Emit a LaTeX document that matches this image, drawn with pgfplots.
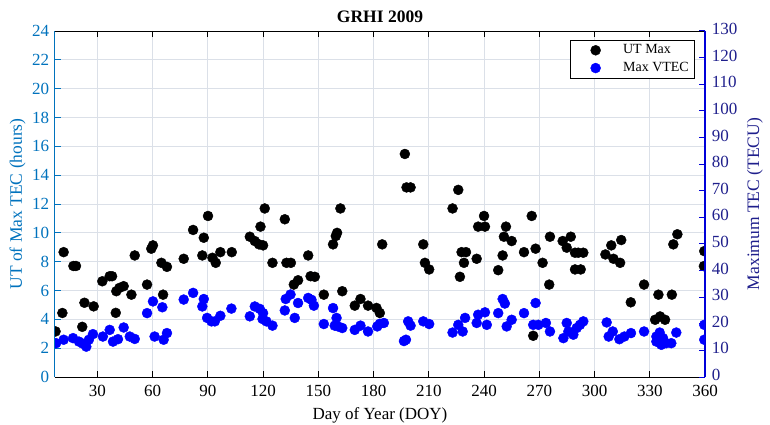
\documentclass[border=0pt]{standalone}
\usepackage{fontspec}
\setmainfont{Liberation Serif}
\usepackage{pgfplots}
\pgfplotsset{compat=1.18}
\definecolor{lcol}{rgb}{0.0,0.447,0.741}
\definecolor{rcol}{rgb}{0.12,0.12,0.55}
\definecolor{rline}{rgb}{0,0,0.85}
\definecolor{gridc}{rgb}{0.86,0.88,0.91}
\begin{document}
\fontsize{17}{20}\selectfont
\begin{tikzpicture}
\pgfplotsset{
  base/.style={
    at={(0,0)}, anchor=south west, scale only axis,
    width=650pt, height=346pt,
    xmin=7, xmax=360,
    tick align=inside,
    major tick length=6pt,
    clip marker paths=true,
    /pgf/number format/assume math mode=true,
    tick label style={font=\fontsize{17}{20}\selectfont},
    label style={font=\fontsize{17.5}{20}\selectfont},
  }
}
\begin{axis}[base,
  ymin=0, ymax=24,
  xtick={30,60,...,360}, ytick={0,2,...,24},
  axis y line*=left, axis x line=box,
  grid=major, major grid style={gridc, line width=0.7pt},
  xlabel={Day of Year (DOY)},
  ylabel={UT of Max TEC (hours)},
  ylabel style={yshift=-5pt},
  xticklabel style={yshift=-2pt},
  title={\textbf{GRHI 2009}},
  title style={font=\fontsize{17.5}{20}\selectfont, yshift=-4pt},
  y axis line style={lcol, line width=1pt},
  ytick style={lcol, line width=0.8pt},
  yticklabel style={lcol},
  ylabel style={lcol},
  x axis line style={black, line width=0.9pt},
  xtick style={black, line width=0.8pt},
]
\addplot[only marks, mark=*, mark size=5pt, black] coordinates {
(7.3,3.16) (11.7,8.66) (11,4.44) (17,7.7) (18.4,7.7) (21.8,3.48) (23,5.15) (28,4.9)
(32.7,6.64) (36.7,6.99) (38,6.99) (40,4.45) (40.3,5.95) (42,6.18) (44.3,6.3) (48.5,5.71)
(50.3,8.43) (57,6.41) (60.2,9.13) (59.3,8.9) (64.8,7.92) (67.8,7.64) (65.7,5.71) (76.9,8.2)
(82,10.2) (87.8,9.66) (90.1,11.17) (87,8.43) (92.5,8.27) (94.3,7.92) (96.8,8.66) (103,8.66)
(112.8,9.73) (115.5,9.43) (117.8,9.2) (120,9.13) (118.6,10.43) (120.9,11.69) (125.1,7.92)
(131.8,10.94) (132.7,7.92) (135.1,7.92) (136.7,6.41) (139,6.71) (144.5,8.43) (145.8,6.99)
(148.1,6.95) (153,5.71) (158,9.2) (159.5,9.78) (160.2,10.0) (162,11.69) (163,5.95)
(169.8,4.95) (172.9,5.41) (177,4.95) (181.6,4.79) (183.4,4.44) (184.7,9.2)
(197,15.47) (197.9,13.15) (200.1,13.15) (207,9.2) (207.9,7.92) (210.2,7.46)
(222.9,11.69) (226,12.98) (227.8,8.66) (230.2,8.66) (229.1,7.92) (226.9,6.95) (236,8.2)
(236.8,10.43) (240.5,10.43) (240,11.17) (247.7,7.41) (250.1,8.43) (250.8,9.73) (251.9,10.43)
(255,9.43) (261.7,8.66) (265.9,11.17) (268,8.9) (271.8,7.92) (275.4,6.41) (275.8,9.73)
(266.7,2.86) (282.7,9.43) (284.9,8.97) (287.1,9.73) (289.4,8.62) (291.2,8.62) (293.9,8.62)
(289.4,7.46) (292.5,7.46) (305.9,8.5) (309.1,9.13) (314.5,9.5) (310.3,8.2) (313.9,7.92)
(319.7,5.18) (326.9,6.41) (334.7,5.71) (342,5.71) (332.9,3.97) (335.6,4.2) (338.3,3.97)
(342.8,9.2) (345,9.9) (359.6,8.73) (359.4,7.69)
};
\end{axis}
\begin{axis}[base,
  ymin=0, ymax=130, ytick={0,10,...,130},
  axis y line*=right, axis x line=none,
  ylabel={Maximum TEC (TECU)},
  ylabel style={yshift=2pt},
  y axis line style={rline, line width=1.2pt},
  ytick style={rline, line width=1pt},
  yticklabel style={rcol, xshift=1pt, yshift=2pt},
  ylabel style={rcol},
  legend style={at={(axis description cs:0.985,0.974)}, anchor=north east,
    draw=black, line width=0.9pt, font=\fontsize{14}{16}\selectfont,
    inner xsep=4pt, inner ysep=2pt, row sep=2pt,
    cells={anchor=west}},
  legend image code/.code={%
    \path (0pt,0pt) (46pt,0pt);
    \draw[#1, line width=0.4pt] plot coordinates {(21pt,0pt)};},
]
\addlegendimage{only marks, mark=*, mark size=5pt, black}
\addlegendentry{UT Max}
\addplot[only marks, mark=*, mark size=5pt, blue] coordinates {
(6.8,12.1) (7.6,12.7) (11.7,14) (16.8,14.6) (20,13.3) (22.2,12.5) (24,11.4) (25.4,14)
(27.6,16.1) (33,15.2) (36.7,17.7) (38.5,13.3) (41.2,14.2) (44.3,18.6) (47.6,15.2) (50.3,14.3)
(57,24) (60.2,28.4) (65.3,26.2) (61.1,15.2) (66,14) (67.8,16.5) (76.9,29.1) (82,31.6)
(87.8,29.3) (87,26.5) (89.6,22.2) (92,20.9) (93.8,20.9) (96.8,23) (102.8,25.7)
(112.8,22.8) (115.5,26.5) (118.2,25.6) (120,24) (119.7,21.8) (121.8,20.9) (125.1,19.3)
(131.8,25) (132.3,29.3) (134.9,31) (139,27.8) (137.2,22.2) (144.5,29.7) (146.3,29)
(147.6,26.8) (153,19.9) (158,25.9) (159.9,22.2) (158.9,19.3) (160.7,19) (163,18.4)
(169.8,17.7) (172.9,19.3) (177,17.1) (182,19) (183.4,20) (185.6,20.3)
(197.6,14) (196.5,13.5) (198.8,20.9) (200.1,19.3) (207,20.9) (210.2,19.9)
(222.9,16.7) (226,19.6) (228.4,17.1) (229.7,22.2) (236,20.3) (236.8,23.4) (240.5,24.3)
(241.5,19.6) (247.7,24) (250.1,29.3) (251.3,27.6) (252.3,19) (255,21.5) (261.7,24)
(268,27.8) (266.7,19.6) (269.5,19.6) (273.6,20.3) (275.8,17.1) (283.1,14.6) (284.9,20.3)
(285.8,17.1) (288.5,15.9) (290.3,18.4) (292.1,19.6) (293.9,20.9) (306.6,20.5) (307.7,15.2)
(309.9,17.1) (313.5,14.2) (316.2,15.2) (319.8,16.5) (326.9,17.1) (333.6,15.2) (335.4,16.7)
(333.6,13.3) (336.3,12.1) (339,12.7) (341.7,12.7) (344.4,16.7) (337.2,14.6)
(359.6,19.6) (359.6,14)
};
\addlegendentry{Max VTEC}
\end{axis}
\pgfresetboundingbox
\path (-55pt,-48pt) rectangle (715pt,377pt);
\end{tikzpicture}
\end{document}
